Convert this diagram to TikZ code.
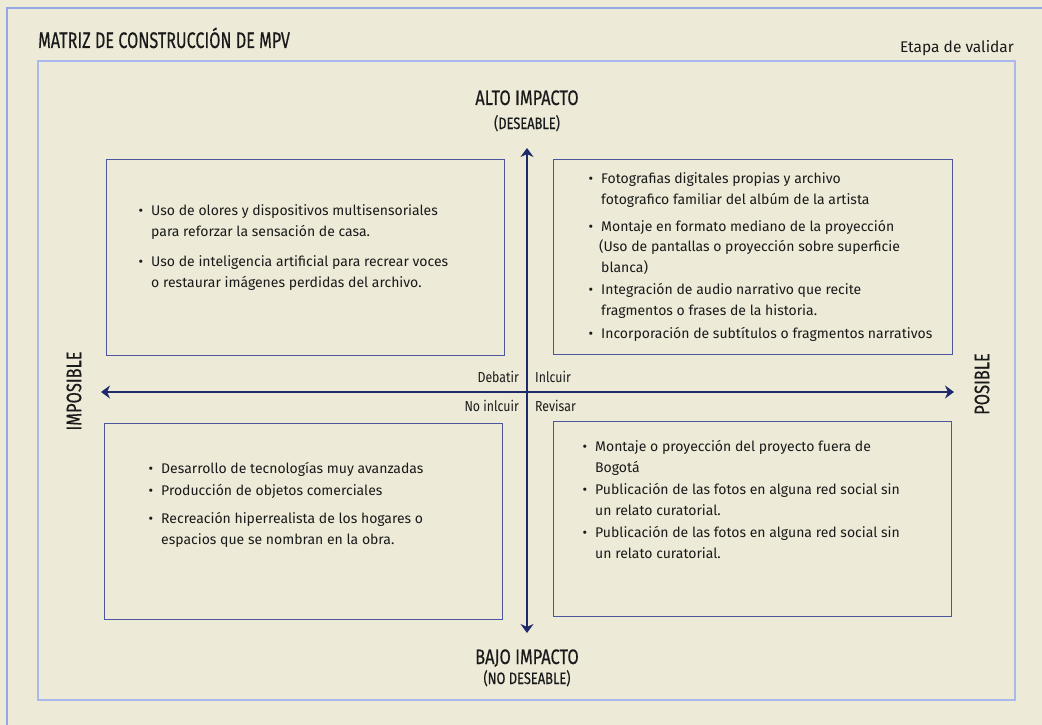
\documentclass[tikz,border=0pt]{standalone}
\usepackage{fontspec}
\setmainfont{Fira Sans}
\newfontfamily\bodyfont{Fira Sans}
\newfontfamily\headfont[FakeStretch=0.78, FakeBold=0.4]{Fira Sans}
\newfontfamily\titlefont[FakeStretch=0.72, FakeBold=0.4]{Fira Sans}
\newfontfamily\tagfont[FakeStretch=0.85]{Fira Sans}
\usepackage{xcolor}
\usetikzlibrary{
    positioning,
    arrows.meta
}
\definecolor{paper}{HTML}{EDEAD8}
\definecolor{frameblue}{HTML}{94A6E8}
\definecolor{boxblue}{HTML}{4D569E}
\definecolor{axisblue}{HTML}{1F2A6B}
\definecolor{ink}{HTML}{1A1A1A}
\newcommand{\bul}{\makebox[0pt][r]{\textbullet\hspace{8pt}}}

\begin{document}
\begin{tikzpicture}[x=1pt, y=-1pt,
  head/.style={font=\headfont\fontsize{21}{24}\selectfont, text=ink, inner sep=0pt},
  sub/.style={font=\headfont\fontsize{16.5}{19}\selectfont, text=ink, inner sep=0pt},
  tag/.style={font=\tagfont\fontsize{14.5}{16}\selectfont, text=ink, inner sep=0pt},
  quad/.style={draw=boxblue, line width=1.2pt, anchor=north west, inner sep=0pt},
  item/.style={anchor=base west, align=left, inner sep=0pt, text=ink,
               font=\bodyfont\fontsize{14}{20.5}\selectfont},
  axis/.style={{Stealth[length=9pt,width=13pt]}-{Stealth[length=9pt,width=13pt]},
               line width=2.6pt, draw=axisblue}]

  \useasboundingbox (0,0) rectangle (1042,725);
  \fill[paper] (0,0) rectangle (1042,725);

  % Frames
  \draw[frameblue, line width=1.2pt] (7,8) rectangle (1060,740);
  \draw[frameblue!80, line width=1.5pt] (38,61) rectangle (1015,700);

  % Title and stage
  \node[anchor=base west, inner sep=0pt, text=ink,
        font=\titlefont\fontsize{22.5}{26}\selectfont] (TTL) at (38,48)
    {MATRIZ DE CONSTRUCCIÓN DE MPV};
  \node[anchor=base east, inner sep=0pt, text=ink, font=\bodyfont\fontsize{15.5}{18}\selectfont]
    (STG) at (1014,53) {Etapa de validar};

  % Axis labels
  \node[head, anchor=base] (HI) at (527,105) {ALTO IMPACTO};
  \node[sub, anchor=base] (HIs) at (527,129) {(DESEABLE)};
  \node[head, anchor=base] (LO) at (527,664) {BAJO IMPACTO};
  \node[sub, anchor=base] (LOs) at (527,684) {(NO DESEABLE)};
  \node[head, rotate=90] (IMP) at (74,391) {IMPOSIBLE};
  \node[head, rotate=90] (POS) at (982,384) {POSIBLE};

  % Quadrant boxes
  \node[quad, minimum width=398pt, minimum height=196pt] (QTL) at (106,159) {};
  \node[quad, minimum width=399pt, minimum height=195pt] (QTR) at (553,159) {};
  \node[quad, minimum width=398pt, minimum height=196pt] (QBL) at (104,423) {};
  \node[quad, minimum width=398pt, minimum height=195pt] (QBR) at (553,421) {};

  % Axes
  \coordinate (N) at (527,148);
  \coordinate (S) at (527,633);
  \coordinate (W) at (101,392);
  \coordinate (E) at (954,392);
  \draw[axis] (S) -- (N);
  \draw[axis] (W) -- (E);

  % Quadrant tags
  \node[tag, anchor=base east] (DEB) at (519,382) {Debatir};
  \node[tag, anchor=base west] (INC) at (535,382) {Inlcuir};
  \node[tag, anchor=base east] (NOI) at (519,411) {No inlcuir};
  \node[tag, anchor=base west] (REV) at (535,411) {Revisar};

  % Top left (placed at the baseline of the last line)
  \node[item] (TL1) at (151,236)
    {\bul Uso de olores y dispositivos multisensoriales\\para reforzar la sensación de casa.};
  \node[item] (TL2) at (151,287)
    {\bul Uso de inteligencia artificial para recrear voces\\o restaurar imágenes perdidas del archivo.};

  % Top right
  \node[item] (TR1) at (601,204)
    {\bul Fotografias digitales propias y archivo\\fotografico familiar del albúm de la artista};
  \node[item] (TR2) at (601,272)
    {\bul Montaje en formato mediano de la proyección\\\hspace{-2pt}(Uso de pantallas o proyección sobre superficie\\blanca)};
  \node[item] (TR3) at (601,315)
    {\bul Integración de audio narrativo que recite\\fragmentos o frases de la historia.};
  \node[item] (TR4) at (601,338)
    {\bul Incorporación de subtítulos o fragmentos narrativos};

  % Bottom left
  \node[item] (BL1) at (161,473) {\bul Desarrollo de tecnologías muy avanzadas};
  \node[item] (BL2) at (161,495) {\bul Producción de objetos comerciales};
  \node[item] (BL3) at (161,544)
    {\bul Recreación hiperrealista de los hogares o\\espacios que se nombran en la obra.};

  % Bottom right
  \node[item] (BR1) at (595,472)
    {\bul Montaje o proyección del proyecto fuera de\\Bogotá};
  \node[item] (BR2) at (595,515)
    {\bul Publicación de las fotos en alguna red social sin\\un relato curatorial.};
  \node[item] (BR3) at (595,558)
    {\bul Publicación de las fotos en alguna red social sin\\un relato curatorial.};
\end{tikzpicture}
\end{document}
